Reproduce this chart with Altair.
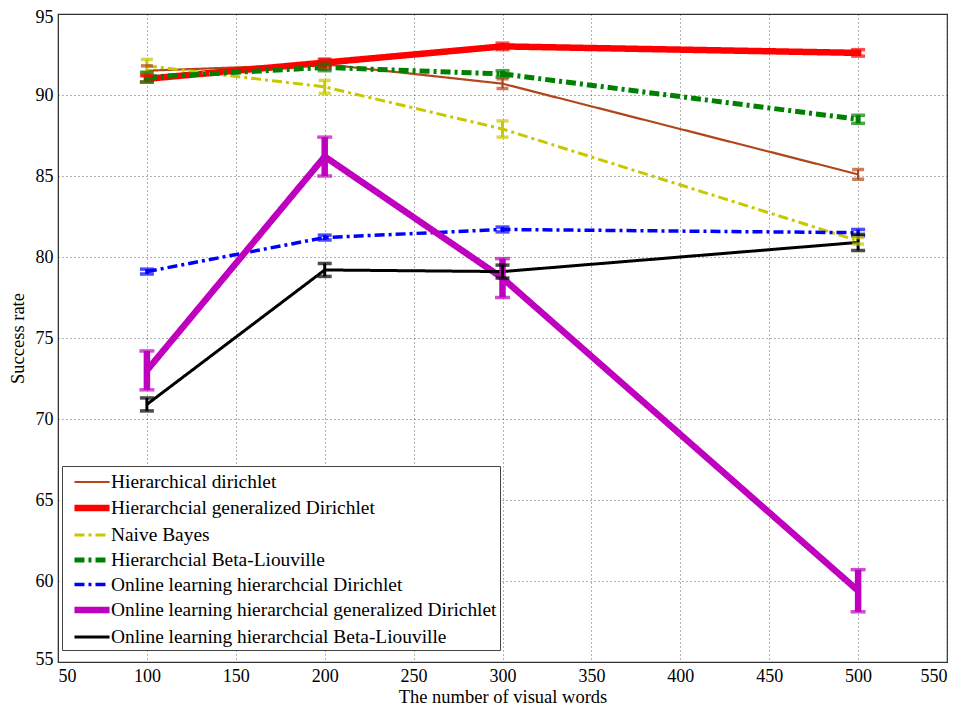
import altair as alt
import pandas as pd

x_words = [100, 200, 300, 500]

series = [
    "Hierarchical dirichlet",
    "Hierarchcial generalized Dirichlet",
    "Naive Bayes",
    "Hierarchcial Beta-Liouville",
    "Online learning hierarchcial Dirichlet",
    " Online learning hierarchcial generalized Dirichlet",
    "Online learning hierarchcial Beta-Liouville",
]

hd_vals = [91.5, 91.9, 90.7, 85.1]
hd_err = [0.3, 0.3, 0.3, 0.3]
hgd_vals = [91.0, 92.0, 93.0, 92.6]
hgd_err = [0.2, 0.2, 0.2, 0.2]
nb_vals = [91.8, 90.5, 87.9, 81.0]
nb_err = [0.4, 0.4, 0.5, 0.2]
hbl_vals = [91.1, 91.7, 91.3, 88.5]
hbl_err = [0.3, 0.2, 0.2, 0.25]
olhd_vals = [79.1, 81.2, 81.7, 81.5]
olhd_err = [0.15, 0.15, 0.15, 0.2]
olhgd_vals = [73.0, 86.2, 78.7, 59.4]
olhgd_err = [1.2, 1.2, 1.2, 1.3]
olhbl_vals = [70.9, 79.2, 79.1, 80.9]
olhbl_err = [0.4, 0.4, 0.4, 0.5]

all_vals = [hd_vals, hgd_vals, nb_vals, hbl_vals, olhd_vals, olhgd_vals, olhbl_vals]
all_errs = [hd_err, hgd_err, nb_err, hbl_err, olhd_err, olhgd_err, olhbl_err]

colors = ["#B0461A", "#FF0000", "#C8C800", "#008000", "#0000FF", "#BF00BF", "#000000"]
dashes = [[1, 0], [1, 0], [10, 4, 3, 4], [10, 4, 3, 4], [10, 4, 3, 4], [1, 0], [1, 0]]
widths = [2.2, 6.5, 3, 5, 3.5, 6.5, 3]
cap_sizes = [12, 14, 12, 14, 14, 15, 14]

rows = []
for s, vals, errs in zip(series, all_vals, all_errs):
    for xv, yv, ev in zip(x_words, vals, errs):
        rows.append({"series": s, "x": xv, "y": yv, "lo": yv - ev, "hi": yv + ev})
df = pd.DataFrame(rows)

serif = "Liberation Serif"

color_scale = alt.Scale(domain=series, range=colors)
dash_scale = alt.Scale(domain=series, range=dashes)
width_scale = alt.Scale(type="ordinal", domain=series, range=widths)
cap_scale = alt.Scale(type="ordinal", domain=series, range=cap_sizes)

legend = alt.Legend(
    title=None, orient="none", legendX=4, legendY=452,
    symbolType="M-0.48,0L2.57,0", symbolSize=529, symbolFillColor="transparent",
    labelFont=serif, labelFontSize=19.4, labelColor="black", labelLimit=700,
    rowPadding=1, padding=3, strokeColor="#444444", fillColor="white",
    labelOffset=16, symbolOpacity=1, offset=0,
)

x_enc = alt.X("x:Q", scale=alt.Scale(domain=[50, 550], nice=False),
              axis=alt.Axis(values=list(range(50, 551, 50)), title="The number of visual words"))
y_enc = alt.Y("y:Q", scale=alt.Scale(domain=[55, 95], nice=False, zero=False),
              axis=alt.Axis(values=list(range(55, 96, 5)), title="Success rate",
                            labelFlush=True, labelFlushOffset=6))

base = alt.Chart(df)

lines = base.mark_line(strokeCap="butt").encode(
    x=x_enc, y=y_enc,
    color=alt.Color("series:N", scale=color_scale, legend=legend, sort=series),
    strokeDash=alt.StrokeDash("series:N", scale=dash_scale, legend=legend, sort=series),
    strokeWidth=alt.StrokeWidth("series:N", scale=width_scale, legend=legend, sort=series),
    detail="series:N",
    order=alt.Order("x:Q"),
)

vbars = base.mark_rule().encode(
    x="x:Q", y="lo:Q", y2="hi:Q",
    color=alt.Color("series:N", scale=color_scale, legend=None),
    strokeWidth=alt.StrokeWidth("series:N", scale=width_scale, legend=None),
)

caps_lo = base.mark_tick(orient="horizontal", thickness=3.5).encode(
    x="x:Q", y="lo:Q",
    color=alt.Color("series:N", scale=color_scale, legend=None),
    size=alt.Size("series:N", scale=cap_scale, legend=None),
)
caps_hi = base.mark_tick(orient="horizontal", thickness=3.5).encode(
    x="x:Q", y="hi:Q",
    color=alt.Color("series:N", scale=color_scale, legend=None),
    size=alt.Size("series:N", scale=cap_scale, legend=None),
)

chart = alt.layer(lines, vbars, caps_lo, caps_hi).resolve_scale(size="independent").properties(
    width=889, height=648,
    autosize=alt.AutoSizeParams(type="none"),
    padding={"left": 50, "top": 6, "right": 14, "bottom": 47},
    background="white",
).configure_view(
    stroke="#333333", strokeWidth=1.2
).configure_axis(
    labelFont=serif, labelFontSize=18, labelColor="black",
    titleFont=serif, titleFontSize=18.5, titleFontWeight="normal", titleColor="black",
    grid=True, gridColor="#222222", gridDash=[1, 3], gridOpacity=0.7,
    domainColor="#333333", ticks=False, labelPadding=5,
).configure_axisY(titlePadding=8).configure_axisX(titlePadding=2)

chart.save("out.html", embed_options={"renderer": "svg", "actions": False})
